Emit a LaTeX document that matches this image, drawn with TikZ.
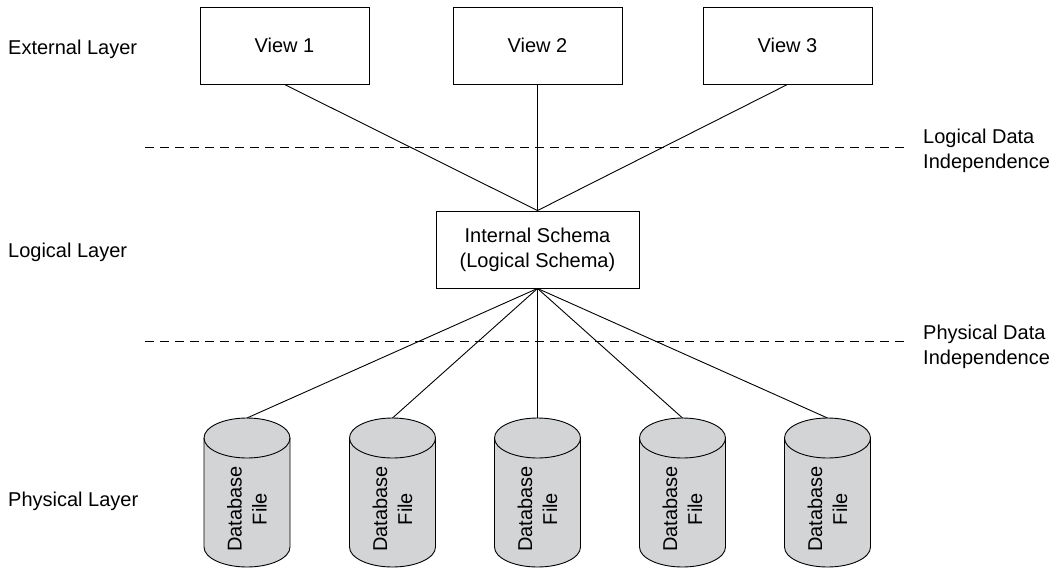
\documentclass[tikz,border=0pt]{standalone}
\usepackage{fontspec}
\setmainfont{Liberation Sans}
\definecolor{dbgray}{RGB}{211,212,214}
\begin{document}
\begin{tikzpicture}[x=1pt, y=1pt,
      every node/.style={font=\fontsize{20}{25}\selectfont},
      viewbox/.style={draw, line width=0.9pt, minimum width=169pt, minimum height=77pt, inner sep=0pt, align=center},
      dbshape/.style={draw, fill=dbgray, line width=0.9pt},
      dbtext/.style={rotate=90, align=center, inner sep=0pt},
      layer/.style={anchor=base west, inner sep=0pt},
      indep/.style={anchor=north west, inner sep=0pt, align=left},
      sep/.style={dash pattern=on 9pt off 6pt, line width=0.9pt},
      link/.style={line width=0.9pt}]
                  \useasboundingbox (0,0) rectangle (1058,-568);

                  \node[layer] (extl) at (8,-54) {External Layer};
                  \node[layer] (logl) at (8,-257) {Logical Layer};
                  \node[layer] (phyl) at (8,-506) {Physical Layer};

                  \node[viewbox] (v1) at (284.5,-45.5) {View 1};
                  \node[viewbox] (v2) at (537.5,-45.5) {View 2};
                  \node[viewbox] (v3) at (787.5,-45.5) {View 3};

                  \node[viewbox, minimum width=203pt] (schema) at (537.5,-249.5) {Internal Schema\\(Logical Schema)};

                  \foreach \x/\n in {247/1, 392.5/2, 537.5/3, 682.5/4, 827.5/5} {
                    \filldraw[dbshape] (\x-43,-438) -- (\x-43,-547)
                      arc[start angle=180, end angle=360, x radius=43, y radius=20]
                      -- (\x+43,-438)
                      arc[start angle=0, end angle=180, x radius=43, y radius=20] -- cycle;
                    \draw[dbshape, fill=none] (\x-43,-438)
                      arc[start angle=180, end angle=360, x radius=43, y radius=20];
                    \coordinate (dbtop\n) at (\x,-418);
                    \node[dbtext] (db\n) at (\x,-509) {Database\\File};
                  }

                  \node[indep] (ldi) at (923,-129) {Logical Data\\Independence};
                  \node[indep] (pdi) at (923,-325) {Physical Data\\Independence};

                  \coordinate (lsepl) at (145,-147);
                  \coordinate (lsepr) at (907,-147);
                  \coordinate (psepl) at (145,-341);
                  \coordinate (psepr) at (907,-341);
                  \draw[sep] (lsepl) -- (lsepr);
                  \draw[sep] (psepl) -- (psepr);

                  \draw[link] (v1.south) -- (schema.north);
                  \draw[link] (v2.south) -- (schema.north);
                  \draw[link] (v3.south) -- (schema.north);

                  \draw[link] (schema.south) -- (dbtop1);
                  \draw[link] (schema.south) -- (dbtop2);
                  \draw[link] (schema.south) -- (dbtop3);
                  \draw[link] (schema.south) -- (dbtop4);
                  \draw[link] (schema.south) -- (dbtop5);

                \end{tikzpicture}
\end{document}
